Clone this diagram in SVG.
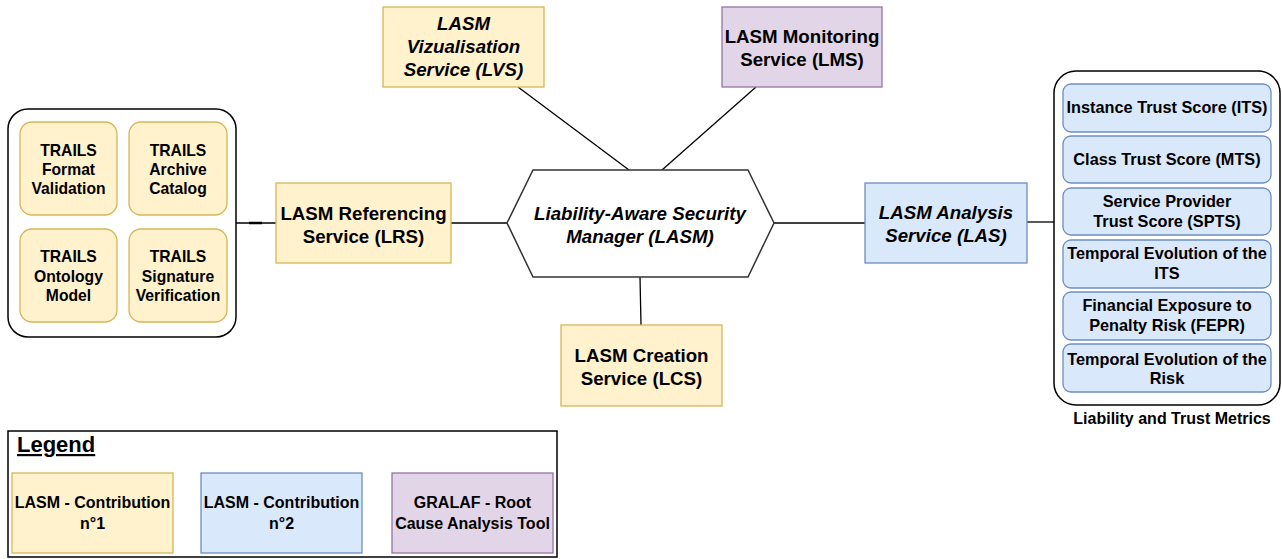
<svg xmlns="http://www.w3.org/2000/svg" width="1282" height="559" viewBox="0 0 1282 559">
<style>
text{font-family:"Liberation Sans",Arial,sans-serif;font-weight:bold;fill:#000;text-anchor:middle}
.big{font-size:18.7px}
.it{font-style:italic}
.trl{font-size:15.7px}
.met{font-size:16.3px}
.leg{font-size:16px}
.y{fill:#fff2cc;stroke:#d6b656;stroke-width:1.3}
.b{fill:#dae8fc;stroke:#6c8ebf;stroke-width:1.3}
.p{fill:#e1d5e7;stroke:#9673a6;stroke-width:1.3}
.cont{fill:#fff;stroke:#000;stroke-width:1.5}
.conn line{stroke:#000;stroke-width:1.3}
</style>
<rect width="1282" height="559" fill="#fff"/>
<g class="conn" id="connectors">
<line x1="236" y1="223" x2="276" y2="223"/>
<line x1="249" y1="223" x2="262" y2="223" style="stroke-width:2.5"/>
<line x1="451" y1="223" x2="507" y2="223"/>
<line x1="774" y1="223" x2="865" y2="223"/>
<line x1="1027" y1="222" x2="1054" y2="222"/>
<line x1="518" y1="87" x2="629" y2="170"/>
<line x1="756" y1="87" x2="662" y2="170"/>
<line x1="640" y1="277" x2="641" y2="325"/>
</g>
<g id="trails-container">
<rect class="cont" x="8" y="109" width="228" height="228" rx="20"/>
<g id="trails-format"><rect class="y" x="20" y="122" width="97" height="93" rx="12"/>
<text class="trl" x="68.5" y="155.5">TRAILS</text><text class="trl" x="68.5" y="174.5">Format</text><text class="trl" x="68.5" y="193.5">Validation</text></g>
<g id="trails-archive"><rect class="y" x="129" y="122" width="98" height="93" rx="12"/>
<text class="trl" x="178" y="155.5">TRAILS</text><text class="trl" x="178" y="174.5">Archive</text><text class="trl" x="178" y="193.5">Catalog</text></g>
<g id="trails-ontology"><rect class="y" x="20" y="229" width="97" height="93" rx="12"/>
<text class="trl" x="68.5" y="262">TRAILS</text><text class="trl" x="68.5" y="281.5">Ontology</text><text class="trl" x="68.5" y="300.5">Model</text></g>
<g id="trails-signature"><rect class="y" x="129" y="229" width="98" height="93" rx="12"/>
<text class="trl" x="178" y="262">TRAILS</text><text class="trl" x="178" y="281.5">Signature</text><text class="trl" x="178" y="300.5">Verification</text></g>
</g>
<g id="lrs"><rect class="y" x="276" y="183" width="175" height="80"/>
<text class="big" x="363.5" y="219.5">LASM Referencing</text><text class="big" x="363.5" y="242.5">Service (LRS)</text></g>
<g id="lvs"><rect class="y" x="383" y="7" width="161" height="80"/>
<text class="big it" x="463.5" y="30">LASM</text><text class="big it" x="463.5" y="53">Vizualisation</text><text class="big it" x="463.5" y="76">Service (LVS)</text></g>
<g id="lms"><rect class="p" x="722" y="7" width="160" height="80"/>
<text class="big" x="802" y="42.5">LASM Monitoring</text><text class="big" x="802" y="66">Service (LMS)</text></g>
<g id="lasm"><polygon points="507,223 533,170 748,170 774,223 748,277 533,277" fill="#fff" stroke="#333" stroke-width="1.5"/>
<text class="big it" x="640" y="220">Liability-Aware Security</text><text class="big it" x="640" y="242.5">Manager (LASM)</text></g>
<g id="lcs"><rect class="y" x="561" y="325" width="161" height="81"/>
<text class="big" x="641.5" y="361.5">LASM Creation</text><text class="big" x="641.5" y="385">Service (LCS)</text></g>
<g id="las"><rect class="b" x="865" y="183" width="162" height="80"/>
<text class="big it" x="946" y="219">LASM Analysis</text><text class="big it" x="946" y="241.5">Service (LAS)</text></g>
<g id="metrics-container">
<rect class="cont" x="1054" y="71" width="226" height="334" rx="22"/>
<g id="its"><rect class="b" x="1063" y="84" width="208" height="48" rx="8"/><text class="met" x="1167" y="113">Instance Trust Score (ITS)</text></g>
<g id="mts"><rect class="b" x="1063" y="136" width="208" height="47" rx="8"/><text class="met" x="1167" y="164.7">Class Trust Score (MTS)</text></g>
<g id="spts"><rect class="b" x="1063" y="188" width="208" height="47" rx="8"/><text class="met" x="1167" y="207.3">Service Provider</text><text class="met" x="1167" y="227.3">Trust Score (SPTS)</text></g>
<g id="tits"><rect class="b" x="1063" y="240" width="208" height="48" rx="8"/><text class="met" x="1167" y="259">Temporal Evolution of the</text><text class="met" x="1167" y="279">ITS</text></g>
<g id="fepr"><rect class="b" x="1063" y="292" width="208" height="48" rx="8"/><text class="met" x="1167" y="311.3">Financial Exposure to</text><text class="met" x="1167" y="331.3">Penalty Risk (FEPR)</text></g>
<g id="trisk"><rect class="b" x="1063" y="344" width="208" height="48" rx="8"/><text class="met" x="1167" y="364.7">Temporal Evolution of the</text><text class="met" x="1167" y="384">Risk</text></g>
<text x="1172" y="423.5" style="font-size:16px">Liability and Trust Metrics</text>
</g>
<g id="legend">
<rect x="8" y="431" width="549" height="126" fill="#fff" stroke="#000" stroke-width="1.5"/>
<text x="17" y="452" style="font-size:22px;text-anchor:start;text-decoration:underline">Legend</text>
<g id="legend-c1"><rect class="y" x="12" y="473" width="161" height="80"/><text class="leg" x="92.5" y="507.6">LASM - Contribution</text><text class="leg" x="92.5" y="528.6">n°1</text></g>
<g id="legend-c2"><rect class="b" x="201" y="473" width="161" height="80"/><text class="leg" x="281.5" y="507.6">LASM - Contribution</text><text class="leg" x="281.5" y="528.6">n°2</text></g>
<g id="legend-gralaf"><rect class="p" x="392" y="473" width="161" height="80"/><text class="leg" x="472.5" y="507.6">GRALAF - Root</text><text class="leg" x="472.5" y="528.6">Cause Analysis Tool</text></g>
</g>
</svg>
